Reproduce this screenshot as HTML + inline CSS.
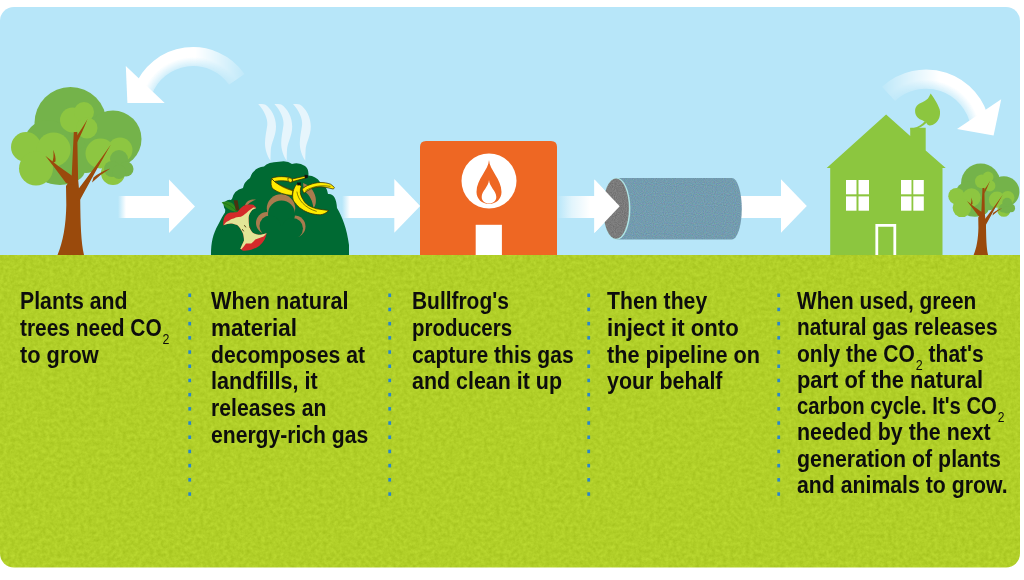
<!DOCTYPE html>
<html><head><meta charset="utf-8">
<style>
html,body{margin:0;padding:0;background:#fff;}
body{width:1024px;height:580px;position:relative;overflow:hidden;}
svg{position:absolute;left:0;top:0;}
.ln{position:absolute;font-family:"Liberation Sans",sans-serif;font-weight:bold;font-size:23.5px;line-height:26.25px;height:26.25px;color:#0d0d0d;transform-origin:0 0;white-space:nowrap;}
.sub{font-weight:normal;font-size:14px;position:relative;top:8px;margin-left:1px;line-height:0;vertical-align:baseline;}
</style></head>
<body>
<svg width="1024" height="580" viewBox="0 0 1024 580">
<defs>
  <clipPath id="frame"><rect x="0" y="7" width="1020" height="560.5" rx="14" ry="14"/></clipPath>
  <linearGradient id="fadeL" x1="118" y1="0" x2="126" y2="0" gradientUnits="userSpaceOnUse">
    <stop offset="0" stop-color="#fff" stop-opacity="0"/><stop offset="1" stop-color="#fff" stop-opacity="1"/>
  </linearGradient>
  <linearGradient id="fadeL2" x1="342" y1="0" x2="350" y2="0" gradientUnits="userSpaceOnUse">
    <stop offset="0" stop-color="#fff" stop-opacity="0"/><stop offset="1" stop-color="#fff" stop-opacity="1"/>
  </linearGradient>
  <linearGradient id="fadeL3" x1="557" y1="0" x2="590" y2="0" gradientUnits="userSpaceOnUse">
    <stop offset="0" stop-color="#fff" stop-opacity="0"/><stop offset="0.45" stop-color="#fff" stop-opacity="0.6"/><stop offset="1" stop-color="#fff" stop-opacity="1"/>
  </linearGradient>
  <radialGradient id="radL" cx="193" cy="110" r="63" gradientUnits="userSpaceOnUse">
    <stop offset="0.69" stop-color="#fff" stop-opacity="0.35"/><stop offset="0.84" stop-color="#fff" stop-opacity="1"/><stop offset="1" stop-color="#fff" stop-opacity="1"/>
  </radialGradient>
  <radialGradient id="radR" cx="926" cy="134" r="64.6" gradientUnits="userSpaceOnUse">
    <stop offset="0.69" stop-color="#fff" stop-opacity="0.35"/><stop offset="0.84" stop-color="#fff" stop-opacity="1"/><stop offset="1" stop-color="#fff" stop-opacity="1"/>
  </radialGradient>
  <linearGradient id="linL" x1="140" y1="0" x2="250" y2="0" gradientUnits="userSpaceOnUse">
    <stop offset="0" stop-color="#fff"/><stop offset="0.5" stop-color="#fff"/><stop offset="1" stop-color="#080808"/>
  </linearGradient>
  <linearGradient id="linR" x1="878" y1="0" x2="990" y2="0" gradientUnits="userSpaceOnUse">
    <stop offset="0" stop-color="#080808"/><stop offset="0.55" stop-color="#fff"/><stop offset="1" stop-color="#fff"/>
  </linearGradient>
  <mask id="mL" maskUnits="userSpaceOnUse" x="0" y="0" width="1024" height="580"><rect x="0" y="0" width="1024" height="580" fill="url(#linL)"/></mask>
  <mask id="mR" maskUnits="userSpaceOnUse" x="0" y="0" width="1024" height="580"><rect x="0" y="0" width="1024" height="580" fill="url(#linR)"/></mask>
  <filter id="grassN" filterUnits="userSpaceOnUse" x="0" y="255" width="1024" height="325" color-interpolation-filters="sRGB">
    <feTurbulence type="fractalNoise" baseFrequency="0.26" numOctaves="3" seed="5"/>
    <feColorMatrix type="matrix" values="0.12 0 0 0 0.634  0.12 0 0 0 0.752  0.1 0 0 0 0.107  0 0 0 0 1"/>
  </filter>
  <filter id="pipeN" x="0" y="0" width="1" height="1" color-interpolation-filters="sRGB">
    <feTurbulence type="fractalNoise" baseFrequency="0.9" numOctaves="1" seed="2" result="t"/>
    <feColorMatrix in="t" type="matrix" values="0.2 0 0 0 0.352  0 0.2 0 0 0.509  0 0 0.2 0 0.584  0 0 0 0 1" result="c"/>
    <feComposite in="c" in2="SourceGraphic" operator="in"/>
  </filter>
  <filter id="grayN" x="0" y="0" width="1" height="1" color-interpolation-filters="sRGB">
    <feTurbulence type="fractalNoise" baseFrequency="0.9" numOctaves="1" seed="4" result="t"/>
    <feColorMatrix in="t" type="matrix" values="0.2 0 0 0 0.380  0.2 0 0 0 0.380  0.2 0 0 0 0.380  0 0 0 0 1" result="c"/>
    <feComposite in="c" in2="SourceGraphic" operator="in"/>
  </filter>
  <g id="tree">
    <g fill="#74b34a">
      <circle cx="70.5" cy="123" r="36"/>
      <circle cx="113" cy="139" r="28.5"/>
      <circle cx="48" cy="144" r="24"/>
      <ellipse cx="60" cy="170" rx="25" ry="15"/>
      <ellipse cx="86" cy="160" rx="14" ry="13"/>
    </g>
    <g fill="#8dc641">
      <circle cx="26" cy="147" r="15"/>
      <circle cx="53.6" cy="149.5" r="17"/>
      <circle cx="36" cy="168.5" r="17"/>
      <circle cx="72.5" cy="120" r="12.5"/>
      <circle cx="84" cy="112" r="10"/>
      <circle cx="87" cy="128" r="10.5"/>
      <circle cx="100.5" cy="153.5" r="15"/>
      <circle cx="120" cy="150" r="12.5"/>
      <circle cx="113" cy="173" r="12"/>
    </g>
    <g fill="#74b34a">
      <circle cx="119" cy="159" r="9"/>
      <circle cx="112" cy="169" r="8"/>
      <circle cx="126" cy="169" r="7.5"/>
      <circle cx="119" cy="172" r="7"/>
    </g>
    <g fill="#9a4a0c">
      <path d="M57.5,255 C63,242 66,225 66.3,205 L66,186 Q70,181 71.7,176 L73.8,132 L77.2,132 L78.1,179 L79,189 L80.2,199 C80.5,225 81,242 84,255 Z"/>
      <path d="M45.3,155.7 Q55,168 66,183 L74,185 L74,176 L71.7,175.5 Q59,167 45.3,155.7 Z"/>
      <path d="M51.8,163.5 Q54.5,157 53.1,149.7 Q56,156 55.5,161.5 Z"/>
      <path d="M77,142.5 Q82,133 87.6,119 Q81,130 77,135.5 Z"/>
      <path d="M76,201 L80.2,199.5 Q95,172 110.9,144.5 Q93,170 78.8,188.5 L76,189 Z"/>
      <path d="M92,182.5 Q101,174 110.3,168.6 Q100,172 93.5,177.5 Z"/>
    </g>
  </g>
</defs>
<g clip-path="url(#frame)">
  <rect x="0" y="0" width="1024" height="255" fill="#b7e6f9"/>
  <rect x="0" y="255" width="1024" height="325" fill="#b1cf28" filter="url(#grassN)"/>

  <!-- trees -->
  <use href="#tree"/>
  <use href="#tree" transform="translate(980.7,255) scale(0.545) translate(-70.5,-255)"/>

  <!-- straight arrows -->
  <g fill="#fff">
    <rect x="118" y="196" width="52" height="22" fill="url(#fadeL)"/>
    <path d="M169,179.4 L195,206.5 L169,233 Z"/>
    <rect x="342" y="196" width="53" height="22" fill="url(#fadeL2)"/>
    <path d="M394.3,179 L420.2,206 L394.3,232.7 Z"/>
    <rect x="557" y="196" width="38" height="22" fill="url(#fadeL3)"/>
    <path d="M594.4,179.5 L619.7,206.3 L594.4,233 Z"/>
    <rect x="740" y="196" width="42" height="22"/>
    <path d="M781,179.2 L806.8,206 L781,232.7 Z"/>
  </g>

  <!-- curved arrow left -->
  <path d="M133.8,88.5 A63,63 0 0 1 244.6,73.9 L229,84.8 A44,44 0 0 0 151.7,95 Z" fill="url(#radL)" mask="url(#mL)"/>
  <path d="M125.8,66 L127.4,102.9 L164.7,102.9 Z" fill="#fff"/>
  <!-- curved arrow right -->
  <path d="M881.9,86.8 A64.6,64.6 0 0 1 989.6,122.8 L970.6,126.1 A45.3,45.3 0 0 0 895.1,100.9 Z" fill="url(#radR)" mask="url(#mR)"/>
  <path d="M1001.2,99.3 L993.6,135.6 L957,129 Z" fill="#fff"/>

  <!-- compost heap -->
  <path d="M211,255 C211,242 213,234 218,225 C221,219 223,215 225,212.4 Q225,203 232,199 Q234,190 243,188 Q244,182 250,178 Q253,168 264,166.6 Q268,162 279,161.8 Q287,160 292,164 Q299,162 305,166 Q309,169 308.4,175.5 Q316,176 320,182 Q327,186 328,194 Q336,193 337,208 C342,216 347,229 349,245 L349,255 Z" fill="#006a33"/>
  <!-- steam -->
  <g fill="#e6f5fc">
    <path d="M258.2,104 C261,104 263,104 265,104.4 C271,108 276,117 276,126.4 C276,136 271,143 270.8,150 C270.6,154 270.5,158 270.5,160.7 C267,156 265,149 265,143.3 C265,137 266.5,131 267.3,125 C268,119 264,110 258.2,104 Z"/>
    <path d="M258.2,104 C261,104 263,104 265,104.4 C271,108 276,117 276,126.4 C276,136 271,143 270.8,150 C270.6,154 270.5,158 270.5,160.7 C267,156 265,149 265,143.3 C265,137 266.5,131 267.3,125 C268,119 264,110 258.2,104 Z" transform="translate(16.2,0)"/>
    <path d="M258.2,104 C261,104 263,104 265,104.4 C271,108 276,117 276,126.4 C276,136 271,143 270.8,150 C270.6,154 270.5,158 270.5,160.7 C267,156 265,149 265,143.3 C265,137 266.5,131 267.3,125 C268,119 264,110 258.2,104 Z" transform="translate(34.8,0)"/>
  </g>
  <!-- tan shapes -->
  <g fill="#a97b4e">
    <circle cx="281" cy="208.5" r="14.2"/>
    <circle cx="267" cy="223" r="11"/>
    <circle cx="294.5" cy="226.5" r="11"/>
    <path d="M303,183 C309,185 314,190 315.5,197 C316.5,202 315.5,206 313.5,208 C312.5,201 310,195 304,191 Z"/>
    <path d="M245,205 C247,200 251,199 256,199.5 C253,201 250,202 247.5,205 Z"/>
  </g>
  <g fill="#006a33">
    <circle cx="281.5" cy="214" r="13.5"/>
    <circle cx="270" cy="226" r="10.5"/>
    <circle cx="292.5" cy="228.5" r="10.5"/>
    <rect x="266" y="226" width="30" height="16"/>
  </g>
  <!-- apple core -->
  <circle cx="229.5" cy="205.5" r="5.8" fill="#006a33"/>
  <path d="M223.3,225.5 C223,222 223.5,217 226.4,214.6 C228,213 230,212.6 231.5,212.6 C234,212.5 236,212.4 237.2,212.1 C239,210 240,208.5 241.4,207.4 C243,206 245,205 247,204.8 C249,204.5 251,204.5 253.3,204.8 C254.5,205.5 255.5,206.8 256.4,207.9 C253,209 251.5,210.5 250.7,212.1 C249,214.5 248.5,216.5 248.6,218.8 C248.6,221 248.7,223.5 249.1,226 C249.8,228.5 250.8,230.5 252.2,232.2 C254,233.5 256,234.5 258.4,234.8 C261,235 264,234 266.7,233.3 C266.3,235.5 265.5,237.5 264.6,239.5 C263,242 261.5,244 259.5,245.7 C257,247.5 254,249 251.2,249.8 C248,250.5 245.5,250.8 242.9,250.8 C242,250.2 241,249.5 240.3,248.8 C241.5,246 243,243 244,240.5 C244,237.5 243.5,234.5 242.4,232.2 C241,229.5 239.5,227 237.2,225 C235,224 232.5,223.4 230.5,223.4 C228,223.5 225.5,224.5 223.3,225.5 Z" fill="#d42a2a"/>
  <path d="M223.8,225 C225,223 226.5,221.5 228.4,220.9 C230,220 231.5,219 232.6,218.8 C234,218.3 235.5,217.4 236.7,217.2 C238,217 239.5,216.8 240.9,216.7 C242.5,216 243.8,215 245,214.1 C246.5,213 248,211.5 249.1,210.5 C250.5,209.3 252,208.2 253.3,207.4 L256.4,207.9 C253,209 251.5,210.5 250.7,212.1 C249,214.5 248.5,216.5 248.6,218.8 C248.6,221 248.7,223.5 249.1,226 C249.8,228.5 250.8,230.5 252.2,232.2 C254,233.5 256,234.5 258.4,234.8 C261,235 264,234 266.7,233.3 C265.5,234.5 264.5,235.5 263.6,236.4 C262,237 260.8,237.5 259.5,237.9 C258,238.5 256.5,239 255.3,239.5 C254,241 252.5,242.5 251.2,243.6 C249.5,243.4 247.5,243.3 246,243.6 C244.5,245.5 243,247.5 241.4,249.3 L240.3,248.8 C241.5,246 243,243 244,240.5 C244,237.5 243.5,234.5 242.4,232.2 C241,229.5 239.5,227 237.2,225 C235,224 232.5,223.4 230.5,223.4 C228,223.5 226,224.2 223.8,225 Z" fill="#e2e596"/>
  <g stroke="#5a4418" stroke-width="1" stroke-linecap="round"><path d="M242.5,229.5 L243.5,231"/><path d="M244.6,225.5 L245.6,227"/><path d="M249.8,227 L250.6,228.5"/></g>
  <path d="M221.7,202.2 C225,201 229,201 232,203 C234.5,205 236.5,208.5 237.2,212.1 C234,211.5 231,210.5 228.5,209 C226,207.5 223.5,205 221.7,202.2 Z" fill="#2e8b1e"/>
  <path d="M223,202.8 C228,204 233,207 236.5,211.5" fill="none" stroke="#1d6a12" stroke-width="0.6"/>
  <path d="M233.6,200.2 L237.6,200.2 L239.3,210 L235.9,210.8 Z" fill="#4a3210"/>
  <!-- banana -->
  <g fill="#ffec00" stroke="#3a3000" stroke-width="0.75">
    <path d="M271.5,178.5 C270.5,183 271,187 273,189 C278,192.5 285,195 292,195.5 L293,190.5 C286,188 279,185 274.5,181.5 Z"/>
    <path d="M271.5,178.5 C275,176.5 282,176 290,177.5 L292.5,182 C285,180.5 278,180.5 274.5,181.5 Z"/>
    <path d="M292,179 L306,176 L306.5,177.8 L293,181.5 Z"/>
    <path d="M288,178 C290,177.5 292,178.5 292.5,180 C292.5,181.5 291.5,182.5 290,182.5 C288.5,182 287.5,179.5 288,178 Z"/>
    <path d="M298,183.5 C295,185 293,190 292.6,195 C292.5,199 293.5,202 295.2,202.8 C297,205.5 299,207.5 301.2,208.8 C304,210.8 307,212.3 309.8,213.1 C313.5,214.2 317,214.8 320.2,214.8 C323.5,214.5 326.5,212.8 328.8,210.5 C325,210 321,209.5 316.7,208.8 C313.5,207.8 310.5,206.8 308.1,205.3 C305.5,203.5 304,201.5 302.9,199.3 C301.5,197 300.5,194.5 300.3,192.4 C300.2,190 300.5,188 301.2,186.4 C300.5,185 299.5,184 298,183.5 Z"/>
    <path d="M302.1,189 C304.5,187 307,185.5 309.8,184.7 C313,183.5 316.5,182.6 320.2,182.5 C324,182.5 327.5,183 330.5,184.2 C332,185 333.5,186.3 334.4,187.7 C334,188.5 333.6,188.9 333.1,189 C329,188 325,187 321,186.8 C317,186.7 314,187.5 310.7,189 C308,190.2 305.8,191.7 303.8,193.3 Z"/>
  </g>
  <g fill="none" stroke="#3a3000" stroke-width="0.6">
    <path d="M296.9,191.6 C298,200 305,208 316.7,211.4"/>
    <path d="M305.5,190.7 C313,186 322,185 330.5,186.4"/>
    <path d="M274.5,181.5 C280,186 286,189 292.6,190.7"/>
  </g>
  <path d="M304.5,174.8 L307.8,175 L307.8,177.8 L304.8,178.4 Z" fill="#111"/>
  <path d="M297,182.6 L301,182.4 L300.6,185.2 L297.4,185.4 Z" fill="#111"/>

  <!-- orange building -->
  <path d="M420,255 L420,147 Q420,141 426,141 L551,141 Q557,141 557,147 L557,255 Z" fill="#ee6723"/>
  <circle cx="489" cy="181" r="27.5" fill="#fff"/>
  <path d="M489,160 C489.5,170 501.5,179 501.5,192 C501.5,199 496,204 489,204 C482,204 476.5,199 476.5,192 C476.5,179 488.5,170 489,160 Z" fill="#ee6723"/>
  <path d="M489,180 C489.5,187 496.3,191 496.3,197 C496.3,201 493,203.5 489,203.5 C485,203.5 481.7,201 481.7,197 C481.7,191 488.5,187 489,180 Z" fill="#fff"/>
  <rect x="475.7" y="224.8" width="26.2" height="30.2" fill="#fff"/>

  <!-- pipe -->
  <path d="M616.5,177.9 L731.8,177.9 A10,30.85 0 0 1 731.8,239.6 L616.5,239.6 Z" fill="#7098ab" filter="url(#pipeN)"/>
  <ellipse cx="616.6" cy="208.75" rx="13.8" ry="31" fill="#b0e6e6"/>
  <ellipse cx="616" cy="208.6" rx="12.9" ry="30.1" fill="#7a7a7a" filter="url(#grayN)"/>
  <path d="M594.4,179.5 L619.7,206.3 L594.4,233 Z" fill="#fff"/>

  <!-- house -->
  <g fill="#8cc63f">
    <path d="M826.7,167.9 L886.1,114.4 L910.2,136 L910.2,127.7 L925.7,127.7 L925.7,150.5 L945.7,167.9 L942.5,167.9 L942.5,255 L830.2,255 L830.2,167.9 Z"/>
    <path d="M930.6,93.6 C933,97 937,102 939.7,109.6 C941,116 938.5,121 935.3,123.3 C933,125 931,125.7 929.5,125.5 C927.5,125 926.5,123.5 925.9,122 C924.5,121.5 923.5,121 922.4,120.3 C919,119.5 915,116 915.1,111.3 C915,107 917.5,104 922.4,102.2 C925,101 927,99.5 928,98.5 C929,97 930,95 930.6,93.6 Z"/>
    <path d="M925,121 C922,124.5 918,127 913.8,128 L910.3,128.3 L910.3,129.5 L914,129.5 C919,128.5 923,126 926.8,122.5 Z"/>
  </g>
  <g fill="#fff">
    <rect x="846" y="180" width="10.5" height="14.3"/><rect x="858.5" y="180" width="10.5" height="14.3"/>
    <rect x="846" y="196.4" width="10.5" height="14.3"/><rect x="858.5" y="196.4" width="10.5" height="14.3"/>
    <rect x="901" y="180" width="10.5" height="14.3"/><rect x="913.3" y="180" width="10.5" height="14.3"/>
    <rect x="901" y="196.4" width="10.5" height="14.3"/><rect x="913.3" y="196.4" width="10.5" height="14.3"/>
  </g>
  <path d="M875.4,255 L875.4,224 L896.2,224 L896.2,255 L893.4,255 L893.4,226.8 L878.2,226.8 L878.2,255 Z" fill="#fff"/>

  <!-- dotted separators -->
  <g fill="#2a86c8">
    <g id="dots">
      <rect x="188.3" y="293.5" width="2.8" height="3.5"/><rect x="188.3" y="307.7" width="2.8" height="3.5"/>
      <rect x="188.3" y="321.9" width="2.8" height="3.5"/><rect x="188.3" y="336.1" width="2.8" height="3.5"/>
      <rect x="188.3" y="350.3" width="2.8" height="3.5"/><rect x="188.3" y="364.5" width="2.8" height="3.5"/>
      <rect x="188.3" y="378.7" width="2.8" height="3.5"/><rect x="188.3" y="392.9" width="2.8" height="3.5"/>
      <rect x="188.3" y="407.1" width="2.8" height="3.5"/><rect x="188.3" y="421.3" width="2.8" height="3.5"/>
      <rect x="188.3" y="435.5" width="2.8" height="3.5"/><rect x="188.3" y="449.7" width="2.8" height="3.5"/>
      <rect x="188.3" y="463.9" width="2.8" height="3.5"/><rect x="188.3" y="478.1" width="2.8" height="3.5"/>
      <rect x="188.3" y="492.3" width="2.8" height="3.5"/>
    </g>
    <use href="#dots" transform="translate(200,0)"/>
    <use href="#dots" transform="translate(399,0)"/>
    <use href="#dots" transform="translate(589,0)"/>
  </g>
</g>
</svg>

<!--TEXT-->
<div class="ln" style="left:20.20px;top:288.00px;transform:scaleX(0.9050)">Plants and</div>
<div class="ln" style="left:20.20px;top:314.75px;transform:scaleX(0.8890)">trees need CO<span class="sub">2</span></div>
<div class="ln" style="left:20.20px;top:341.50px;transform:scaleX(0.9269)">to grow</div>
<div class="ln" style="left:210.70px;top:288.00px;transform:scaleX(0.9237)">When natural</div>
<div class="ln" style="left:210.70px;top:314.75px;transform:scaleX(0.9531)">material</div>
<div class="ln" style="left:210.70px;top:341.50px;transform:scaleX(0.9001)">decomposes at</div>
<div class="ln" style="left:210.70px;top:368.25px;transform:scaleX(0.9192)">landfills, it</div>
<div class="ln" style="left:210.70px;top:395.00px;transform:scaleX(0.9008)">releases an</div>
<div class="ln" style="left:210.70px;top:421.75px;transform:scaleX(0.8985)">energy-rich gas</div>
<div class="ln" style="left:411.80px;top:288.00px;transform:scaleX(0.8903)">Bullfrog's</div>
<div class="ln" style="left:411.80px;top:314.75px;transform:scaleX(0.8711)">producers</div>
<div class="ln" style="left:411.80px;top:341.50px;transform:scaleX(0.8968)">capture this gas</div>
<div class="ln" style="left:411.80px;top:368.25px;transform:scaleX(0.9120)">and clean it up</div>
<div class="ln" style="left:607.00px;top:288.00px;transform:scaleX(0.9027)">Then they</div>
<div class="ln" style="left:607.00px;top:314.75px;transform:scaleX(0.9433)">inject it onto</div>
<div class="ln" style="left:607.00px;top:341.50px;transform:scaleX(0.9225)">the pipeline on</div>
<div class="ln" style="left:607.00px;top:368.25px;transform:scaleX(0.9117)">your behalf</div>
<div class="ln" style="left:796.60px;top:288.00px;transform:scaleX(0.8855)">When used, green</div>
<div class="ln" style="left:796.60px;top:314.25px;transform:scaleX(0.8871)">natural gas releases</div>
<div class="ln" style="left:796.60px;top:340.50px;transform:scaleX(0.8940)">only the CO<span class="sub">2</span> that's</div>
<div class="ln" style="left:796.60px;top:366.75px;transform:scaleX(0.9314)">part of the natural</div>
<div class="ln" style="left:796.60px;top:393.00px;transform:scaleX(0.8632)">carbon cycle. It's CO<span class="sub">2</span></div>
<div class="ln" style="left:796.60px;top:419.25px;transform:scaleX(0.9098)">needed by the next</div>
<div class="ln" style="left:796.60px;top:445.50px;transform:scaleX(0.9083)">generation of plants</div>
<div class="ln" style="left:796.60px;top:471.75px;transform:scaleX(0.9043)">and animals to grow.</div>
<!--/TEXT-->
</body></html>
